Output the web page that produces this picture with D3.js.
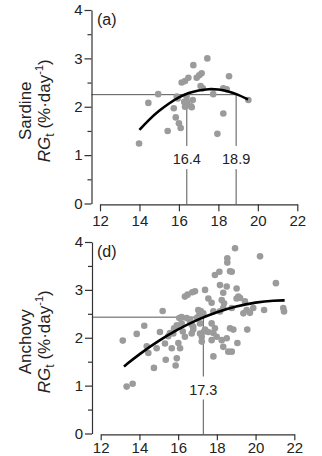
<!DOCTYPE html>
<html>
<head>
<style>
  body { margin: 0; background: #fff; }
  svg { display: block; font-family: "Liberation Sans", Arial, sans-serif; }
  .axis path, .axis line { stroke: #333; stroke-width: 1.2; }
  .axis text { fill: #222; font-size: 15px; font-family: "Liberation Sans", Arial, sans-serif; }
  .ref { stroke: #555; stroke-width: 1; fill: none; }
  .dot { fill: #9b9b9b; }
  .fit { stroke: #000; stroke-width: 2.6; fill: none; }
  .lbl { fill: #222; font-size: 14.5px; }
</style>
</head>
<body>
<svg id="chart" width="322" height="456"></svg>
<script src="https://d3js.org/d3.v7.min.js"></script>
<script>
// sardine (a) : temperature vs RG
var sardineT  = [13.98,14.45,14.95,15.43,15.74,15.84,15.94,16.00,16.09,16.14,16.31,16.27,16.31,16.48,16.61,16.70,16.73,16.90,17.03,17.15,17.10,17.21,17.44,17.74,17.95,18.25,18.42,18.25,18.54,19.52,16.42,16.65,15.89,16.39];
var sardineRG = [1.24,2.08,2.26,1.50,1.97,1.78,2.17,1.66,1.56,2.50,2.53,2.10,2.00,2.60,2.01,2.14,2.86,2.60,2.65,2.69,2.43,2.38,3.00,2.26,1.44,2.38,2.36,1.86,2.63,2.14,2.10,1.99,2.21,2.21];
var sardineFitT  = [14,14.5,15,15.5,16,16.5,17,17.5,18,18.5,19,19.5];
var sardineFitRG = [1.52,1.74,1.92,2.07,2.20,2.29,2.34,2.37,2.36,2.32,2.25,2.15];
var sardineRef = 2.25, sardineOpt = [16.4, 18.9];

// anchovy (d)
var anchovyT  = [13.14,13.34,13.65,13.86,14.25,14.38,14.46,14.75,14.89,15.06,15.20,15.32,15.36,15.49,15.58,15.67,15.75,15.79,15.87,15.93,16.01,16.06,16.18,16.24,16.35,16.35,16.49,16.73,16.44,16.61,16.70,16.70,16.78,16.96,17.09,17.17,17.13,17.22,17.22,17.34,17.39,17.56,17.73,17.39,17.56,17.82,17.73,17.73,17.82,17.90,17.82,17.90,18.13,17.99,18.16,18.16,18.51,18.33,18.25,18.33,18.37,18.25,18.33,18.51,18.54,18.54,18.68,18.68,18.77,18.59,18.77,18.85,18.94,18.77,19.02,19.11,19.02,19.20,19.06,19.45,19.54,19.71,19.57,19.88,19.37,20.23,20.44,21.05,21.43,21.47,16.87,17.04,16.62,16.78,17.13,16.10,15.93,16.18,17.04,17.30];
var anchovyRG = [1.94,0.98,1.04,2.08,2.25,1.82,1.68,1.37,1.78,2.12,2.56,1.88,1.54,2.03,2.10,1.78,2.09,2.20,1.42,1.57,1.89,2.41,2.43,2.13,2.02,2.86,2.90,2.95,2.41,2.38,2.27,2.09,2.17,2.41,2.47,2.56,2.09,1.92,2.02,2.13,3.00,2.82,2.73,2.17,2.12,2.10,2.30,1.95,1.61,2.20,2.55,3.31,3.38,2.02,2.55,3.10,3.07,2.94,2.79,2.62,2.72,1.95,1.81,1.99,3.66,3.57,3.39,2.20,2.62,1.71,1.71,2.17,3.87,3.38,3.03,2.86,2.82,2.83,1.89,2.76,2.58,2.52,2.17,2.62,2.51,3.70,2.58,3.14,2.62,2.55,2.97,2.44,2.33,2.23,2.30,1.78,2.26,2.30,2.58,2.51];
var anchovyFitT  = [13.2,14,15,16,17,18,19,20,21,21.5];
var anchovyFitRG = [1.40,1.66,1.94,2.18,2.38,2.54,2.66,2.74,2.78,2.78];
var anchovyRef = 2.43, anchovyOpt = [17.3];

var yTicks = [0,1,2,3,4], yMinor = [0.5,1.5,2.5,3.5], xTicks = [12,14,16,18,20,22];

var svg = d3.select("#chart");

function panel(o) {
  var x = d3.scaleLinear().domain([12,22]).range(o.xr);
  var y = d3.scaleLinear().domain([0,4]).range(o.yr);
  var g = svg.append("g");
  var axX = o.yr[0] + 0.8;

  // reference lines (drawn under the dots)
  var xEnd = d3.max(o.opt);
  g.append("line").attr("class","ref")
    .attr("x1", o.yAxisX).attr("x2", x(xEnd))
    .attr("y1", y(o.ref)).attr("y2", y(o.ref));
  o.opt.forEach(function(v) {
    g.append("line").attr("class","ref")
      .attr("x1", x(v)).attr("x2", x(v))
      .attr("y1", y(o.ref)).attr("y2", y(1.19));
    g.append("line").attr("class","ref")
      .attr("x1", x(v)).attr("x2", x(v))
      .attr("y1", y(0.71)).attr("y2", axX);
    g.append("text").attr("class","lbl")
      .attr("x", x(v)).attr("y", y(0.92))
      .attr("text-anchor","middle").attr("dy","0.36em")
      .text(d3.format(".1f")(v));
  });

  g.selectAll(".dot").data(o.t).enter().append("circle")
    .attr("class","dot")
    .attr("cx", function(d){ return x(d); })
    .attr("cy", function(d,i){ return y(o.rg[i]); })
    .attr("r", 3.3);

  var line = d3.line()
    .x(function(d){ return x(d); })
    .y(function(d,i){ return y(o.fitRG[i]); })
    .curve(d3.curveBasis);
  g.append("path").attr("class","fit").attr("d", line(o.fitT));

  // axes
  g.append("g").attr("class","axis")
    .attr("transform","translate(0," + axX + ")")
    .call(d3.axisBottom(x).tickValues(xTicks).tickSize(o.xTick).tickSizeOuter(0).tickPadding(o.xPad).tickFormat(d3.format("d")));
  g.append("g").attr("class","axis")
    .attr("transform","translate(" + o.yAxisX + ",0)")
    .call(d3.axisLeft(y).tickValues(yTicks).tickSize(7).tickSizeOuter(0).tickPadding(2).tickFormat(d3.format("d")));
  g.append("g").attr("class","axis")
    .attr("transform","translate(" + o.yAxisX + ",0)")
    .call(d3.axisLeft(y).tickValues(yMinor).tickSize(4).tickSizeOuter(0).tickFormat(""))
    .select(".domain").remove();

  g.append("text").attr("x", 97).attr("y", o.yr[1] + 15)
    .attr("font-size", 16).attr("fill","#222").text(o.tag);

  var cy = (o.yr[0] + o.yr[1]) / 2 + 4;
  g.append("text")
    .attr("transform","translate(31," + cy + ") rotate(-90)")
    .attr("text-anchor","middle").attr("font-size", 17).attr("fill","#222")
    .text(o.name);
  var t2 = g.append("text")
    .attr("transform","translate(50," + cy + ") rotate(-90)")
    .attr("text-anchor","middle").attr("font-size", 17).attr("fill","#222");
  t2.append("tspan").attr("font-style","italic").text("RG");
  t2.append("tspan").attr("font-size", 12).attr("dy", 4).text("t");
  t2.append("tspan").attr("dy", -4).text(" (%\u00b7day");
  t2.append("tspan").attr("font-size", 11).attr("dy", -7).text("-1");
  t2.append("tspan").attr("dy", 7).text(")");
}

panel({ t: sardineT, rg: sardineRG, fitT: sardineFitT, fitRG: sardineFitRG,
        ref: sardineRef, opt: sardineOpt, tag: "(a)", name: "Sardine",
        xr: [100, 297.3], yr: [203.5, 10], yAxisX: 91.5, xTick: 7, xPad: 4 });
panel({ t: anchovyT, rg: anchovyRG, fitT: anchovyFitT, fitRG: anchovyFitRG,
        ref: anchovyRef, opt: anchovyOpt, tag: "(d)", name: "Anchovy",
        xr: [100.7, 294.3], yr: [433.5, 242], yAxisX: 92, xTick: 6, xPad: 2 });
</script>
</body>
</html>
